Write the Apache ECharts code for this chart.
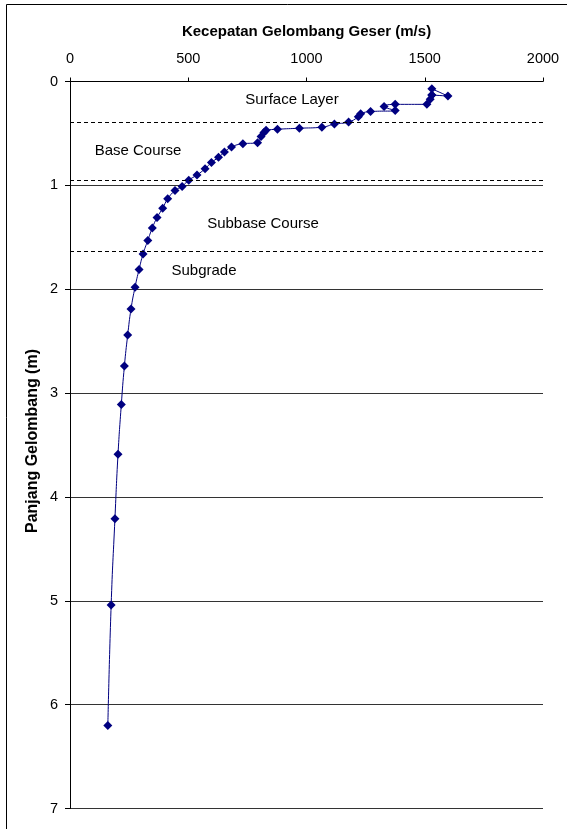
<!DOCTYPE html>
<html>
<head>
<meta charset="utf-8">
<title>Kecepatan Gelombang Geser</title>
<script src="https://cdn.jsdelivr.net/npm/echarts@6/dist/echarts.min.js"></script>
<style>
  html, body { margin: 0; padding: 0; background: #fff; }
  #chart { width: 567px; height: 829px; }
</style>
</head>
<body>
<div id="chart"></div>
<script>
// Shear-wave velocity (m/s) against wavelength (m), in measurement order
var velocity = [160, 174, 190, 203, 217, 230, 244, 258, 275, 292,
                309, 329, 348, 368, 392, 413, 444, 474, 502, 537,
                571, 598, 628, 653, 683, 731, 793, 808, 820, 829,
                877, 970, 1065, 1118, 1178, 1219, 1229, 1271, 1375, 1328,
                1375, 1509, 1523, 1530, 1530, 1598, 1530];
var depth = [6.20, 5.04, 4.21, 3.59, 3.11, 2.74, 2.44, 2.19, 1.98, 1.81,
             1.66, 1.53, 1.41, 1.31, 1.22, 1.13, 1.05, 1.01, 0.95, 0.90,
             0.84, 0.78, 0.73, 0.68, 0.63, 0.60, 0.59, 0.53, 0.49, 0.47,
             0.46, 0.45, 0.44, 0.41, 0.39, 0.34, 0.31, 0.29, 0.28, 0.24,
             0.22, 0.22, 0.17, 0.13, 0.07, 0.14, 0.13];

// Pavement layer boundaries (m) and layer names
var layerBounds = [0.39, 0.95, 1.63];
var layerNames = ['Surface Layer', 'Base Course', 'Subbase Course', 'Subgrade'];

var xTitle = 'Kecepatan Gelombang Geser (m/s)';
var yTitle = 'Panjang Gelombang (m)';

var points = velocity.map(function (v, i) { return [v, depth[i]]; });

var FONT = '"Liberation Sans", Arial, sans-serif';
var chart = echarts.init(document.getElementById('chart'), null, { renderer: 'canvas' });

function plain(v) { return String(v); }

chart.setOption({
  animation: false,
  backgroundColor: '#fff',
  grid: { left: 70, top: 81.5, width: 473, height: 727, containLabel: false },
  xAxis: {
    type: 'value',
    position: 'top',
    min: 0, max: 2000, interval: 500,
    name: xTitle,
    nameLocation: 'middle',
    nameGap: 42,
    nameTextStyle: { fontFamily: FONT, fontSize: 15, fontWeight: 'bold', color: '#000' },
    axisLine: { show: true, lineStyle: { color: '#000', width: 1 } },
    axisTick: { show: true, length: 4, lineStyle: { color: '#000' } },
    axisLabel: { margin: 15, fontFamily: FONT, fontSize: 14.5, color: '#000', formatter: plain },
    splitLine: { show: false }
  },
  yAxis: {
    type: 'value',
    inverse: true,
    min: 0, max: 7, interval: 1,
    axisLine: { show: true, lineStyle: { color: '#000', width: 1 } },
    axisTick: { show: true, length: 5, lineStyle: { color: '#000' } },
    axisLabel: { margin: 12, fontFamily: FONT, fontSize: 14.5, color: '#000', formatter: plain },
    splitLine: { show: true, lineStyle: { color: '#333', width: 1 } }
  },
  graphic: [
    {
      type: 'rect', silent: true,
      shape: { x: 6.5, y: 4.5, width: 700, height: 900 },
      style: { fill: 'none', stroke: '#000', lineWidth: 1 }
    },
    {
      type: 'text', silent: true, x: 33, y: 441, rotation: Math.PI / 2,
      style: { text: yTitle, font: 'bold 16px ' + FONT, fill: '#000', align: 'center', verticalAlign: 'middle' }
    },
    {
      type: 'text', silent: true, x: 292, y: 100,
      style: { text: layerNames[0], font: '15px ' + FONT, fill: '#000', align: 'center', verticalAlign: 'middle' }
    },
    {
      type: 'text', silent: true, x: 138, y: 151,
      style: { text: layerNames[1], font: '15px ' + FONT, fill: '#000', align: 'center', verticalAlign: 'middle' }
    },
    {
      type: 'text', silent: true, x: 263, y: 224,
      style: { text: layerNames[2], font: '15px ' + FONT, fill: '#000', align: 'center', verticalAlign: 'middle' }
    },
    {
      type: 'text', silent: true, x: 204, y: 271,
      style: { text: layerNames[3], font: '15px ' + FONT, fill: '#000', align: 'center', verticalAlign: 'middle' }
    }
  ],
  series: [
    {
      type: 'line',
      data: points,
      smooth: 0.5,
      symbol: 'diamond',
      symbolSize: 9,
      showAllSymbol: true,
      itemStyle: { color: '#000080' },
      lineStyle: { color: '#000080', width: 1 },
      markLine: {
        silent: true,
        symbol: ['none', 'none'],
        label: { show: false },
        lineStyle: { color: '#000', width: 1, type: [4, 3] },
        data: layerBounds.map(function (d) { return { yAxis: d }; })
      },
      z: 3
    }
  ]
});
</script>
</body>
</html>
